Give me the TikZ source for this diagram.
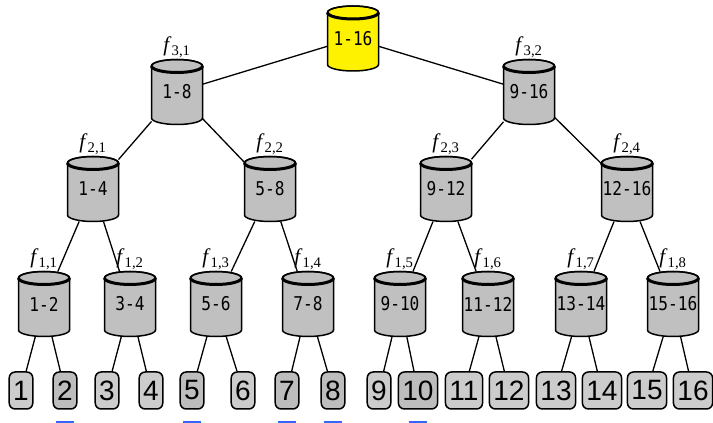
\documentclass[tikz,border=0pt]{standalone}
\usepackage{fontspec}
\setmainfont{Liberation Serif}
\newfontfamily\leaffont{Liberation Sans}
\newfontfamily\drumfont[FakeStretch=0.85]{DejaVu Sans Mono}
\usepackage{tikz}
\usepackage{xcolor}
\definecolor{drumgray}{HTML}{C0C0C0}
\definecolor{leafgray}{HTML}{CCCCCC}
\definecolor{leafdark}{HTML}{BDBDBD}
\definecolor{flagblue}{HTML}{3366FF}
\tikzset{
    drumline/.style={line width=1.5pt},
    drum/.style={
        rectangle,
        minimum width=51pt,
        minimum height=65pt,
        inner sep=0pt,
        outer sep=0pt,
        font=\drumfont\fontsize{19}{19}\selectfont
    },
    flabel/.style={font=\fontsize{21}{21}\selectfont,inner sep=2pt},
    leaf/.style={
        rectangle,
        rounded corners=6pt,
        draw,
        line width=1.5pt,
        fill=leafgray,
        minimum height=37pt,
        inner xsep=4pt,
        font=\leaffont\fontsize{28}{28}\selectfont
    },
    edge/.style={line width=1.3pt},
    flag/.style={flagblue,line width=3pt}
}
\newcommand{\drum}[6] {
    \begin{scope}[shift={({#2}, {#3})}]
        \filldraw[drumline,fill={#4}] (-25.5,26) -- (-25.5,-26) arc (180:360:25.5 and 6.5)
            -- (25.5,26) arc (0:180:25.5 and 6.5) -- cycle;
        \draw[drumline] (0,26) ellipse (25.5 and 6.5);
        \draw[line width=3pt] (-25.5,26) arc (180:360:25.5 and 6.5);
    \end{scope}
    \node[drum,label={[flabel]above:#6}] (#1) at ({#2}, {#3}) {#5};
}

\begin{document}
\begin{tikzpicture}[x=1pt,y=1pt]
    \useasboundingbox (0,0) rectangle (713,423);
    % tree of cylinders
    \drum{r}{353}{384.5}{yellow}{1-16}{}
    \drum{n31}{177}{331}{drumgray}{1-8}{\textit{f}\textsubscript{3,1}}
    \drum{n32}{529}{331}{drumgray}{9-16}{\textit{f}\textsubscript{3,2}}
    \drum{n21}{93}{234}{drumgray}{1-4}{\textit{f}\textsubscript{2,1}}
    \drum{n22}{270}{234}{drumgray}{5-8}{\textit{f}\textsubscript{2,2}}
    \drum{n23}{446}{234}{drumgray}{9-12}{\textit{f}\textsubscript{2,3}}
    \drum{n24}{627}{234}{drumgray}{12-16}{\textit{f}\textsubscript{2,4}}
    \drum{n11}{44}{119}{drumgray}{1-2}{\textit{f}\textsubscript{1,1}}
    \drum{n12}{130}{119}{drumgray}{3-4}{\textit{f}\textsubscript{1,2}}
    \drum{n13}{216}{119}{drumgray}{5-6}{\textit{f}\textsubscript{1,3}}
    \drum{n14}{308}{119}{drumgray}{7-8}{\textit{f}\textsubscript{1,4}}
    \drum{n15}{400}{119}{drumgray}{9-10}{\textit{f}\textsubscript{1,5}}
    \drum{n16}{488}{119}{drumgray}{11-12}{\textit{f}\textsubscript{1,6}}
    \drum{n17}{581}{119}{drumgray}{13-14}{\textit{f}\textsubscript{1,7}}
    \drum{n18}{673}{119}{drumgray}{15-16}{\textit{f}\textsubscript{1,8}}
    % leaves
    \foreach \i/\x/\c in {1/21/leafgray,2/65/leafdark,3/107/leafgray,4/151/leafgray,
                          5/192/leafdark,6/243/leafgray,7/287/leafdark,8/333/leafdark,
                          9/379/leafgray,10/418/leafdark,11/464/leafgray,12/509/leafgray,
                          13/556/leafgray,14/602/leafgray,15/647/leafgray,16/693/leafgray}
        \node[leaf,fill=\c] (l\i) at (\x,32.5) {\i};
    % connectors
    \foreach \a/\b in {r/n31,r/n32,n31/n21,n31/n22,n32/n23,n32/n24,
                       n21/n11,n21/n12,n22/n13,n22/n14,n23/n15,n23/n16,n24/n17,n24/n18,
                       n11/l1,n11/l2,n12/l3,n12/l4,n13/l5,n13/l6,n14/l7,n14/l8,
                       n15/l9,n15/l10,n16/l11,n16/l12,n17/l13,n17/l14,n18/l15,n18/l16}
        \draw[edge] (\a) -- (\b);
    % blue marks
    \foreach \i in {2,5,7,8,10}
        \draw[flag] ([xshift=-9pt,yshift=-12.5pt]l\i.south) -- ([xshift=9pt,yshift=-12.5pt]l\i.south);
\end{tikzpicture}
\end{document}
